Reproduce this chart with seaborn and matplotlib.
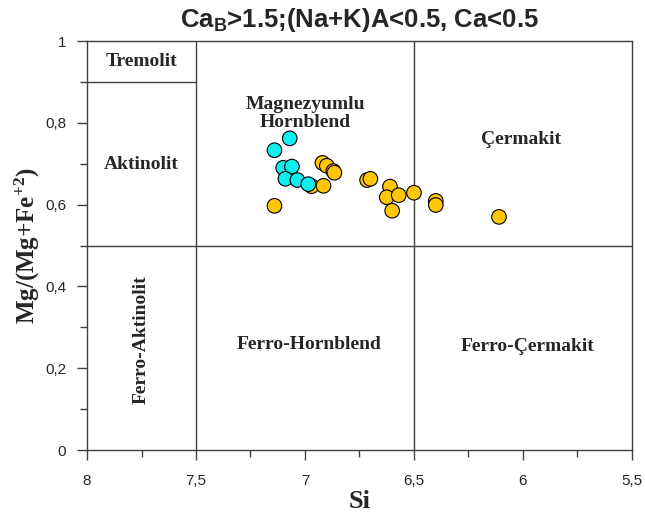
import matplotlib
matplotlib.use("Agg")
import matplotlib.pyplot as plt
import pandas as pd
import seaborn as sns
from matplotlib.ticker import MultipleLocator, FixedLocator

# cyan group (Si, Mg/(Mg+Fe2))
si_cyan = [7.07, 7.14, 7.10, 7.06, 7.09, 7.035, 6.985]
mg_cyan = [0.762, 0.733, 0.690, 0.693, 0.663, 0.660, 0.650]

# gold group
si_gold = [6.97, 6.915, 6.92, 6.90, 6.87, 6.865, 7.14, 6.715, 6.70,
           6.61, 6.625, 6.57, 6.60, 6.50, 6.40, 6.40, 6.11]
mg_gold = [0.645, 0.646, 0.702, 0.695, 0.682, 0.678, 0.597, 0.660, 0.663,
           0.644, 0.618, 0.623, 0.585, 0.629, 0.609, 0.599, 0.570]

x_ticks = [8, 7.5, 7, 6.5, 6, 5.5]
x_labels = ["8", "7,5", "7", "6,5", "6", "5,5"]
y_ticks = [0, 0.2, 0.4, 0.6, 0.8, 1.0]
y_labels = ["0", "0,2", "0,4", "0,6", "0,8", "1"]

df = pd.DataFrame({
    "Si": si_gold + si_cyan,
    "Mg": mg_gold + mg_cyan,
    "grup": ["gold"] * len(si_gold) + ["cyan"] * len(si_cyan),
})

sns.set_style("white")
plt.rcParams["mathtext.fontset"] = "custom"
plt.rcParams["mathtext.sf"] = "Liberation Sans:bold"
plt.rcParams["mathtext.bf"] = "Liberation Serif:bold"
plt.rcParams["mathtext.rm"] = "Liberation Serif:bold"

fig = plt.figure(figsize=(6.45, 5.19), dpi=100)
ax = fig.add_axes([0.1349, 0.1329, 0.8449, 0.7881])

line_c = "#404040"
# field boundaries
ax.axvline(7.5, color=line_c, lw=1)
ax.axvline(6.5, color=line_c, lw=1)
ax.axhline(0.5, color=line_c, lw=1)
ax.plot([8, 7.5], [0.9, 0.9], color=line_c, lw=1)

sns.scatterplot(data=df, x="Si", y="Mg", hue="grup",
                palette={"gold": "#ffc60a", "cyan": "#12eef0"},
                s=110, edgecolor="black", linewidth=0.8, legend=False,
                ax=ax, zorder=3)

ax.set_xlim(8, 5.5)
ax.set_ylim(0, 1)
ax.xaxis.set_major_locator(FixedLocator(x_ticks))
ax.set_xticklabels(x_labels)
ax.xaxis.set_minor_locator(MultipleLocator(0.25))
ax.yaxis.set_major_locator(FixedLocator(y_ticks))
ax.set_yticklabels(y_labels)
ax.yaxis.set_minor_locator(MultipleLocator(0.1))
ax.tick_params(which="major", direction="out", length=7, width=1, color=line_c,
               labelsize=11, pad=10, bottom=True, left=True)
ax.tick_params(which="minor", direction="out", length=5, width=1, color=line_c,
               bottom=True, left=True)
ax.tick_params(axis="y", which="major", pad=8)
for lab in ax.get_xticklabels() + ax.get_yticklabels():
    lab.set_fontfamily("Liberation Sans")

for sp in ax.spines.values():
    sp.set_color(line_c)
    sp.set_linewidth(1)

serif_bold = dict(fontfamily="Liberation Serif", fontweight="bold")
ax.set_xlabel("Si", fontsize=19, labelpad=2, **serif_bold)
ax.set_ylabel("Mg/(Mg+Fe$\\mathbf{^{+2}}$)", fontsize=18, labelpad=2, **serif_bold)
ax.set_title("Ca$_{\\mathsf{B}}$>1.5;(Na+K)A<0.5, Ca<0.5", fontsize=18.5,
             fontfamily="Liberation Sans", fontweight="bold", pad=10)

lab_kw = dict(ha="center", va="center", fontsize=14, **serif_bold)
ax.text(7.75, 0.949, "Tremolit", **lab_kw)
ax.text(7.75, 0.697, "Aktinolit", **lab_kw)
ax.text(7.0, 0.822, "Magnezyumlu\nHornblend", linespacing=1.1, **lab_kw)
ax.text(6.01, 0.758, "Çermakit", **lab_kw)
ax.text(7.75, 0.27, "Ferro-Aktinolit", rotation=90, **lab_kw)
ax.text(6.98, 0.257, "Ferro-Hornblend", **lab_kw)
ax.text(5.98, 0.254, "Ferro-Çermakit", **lab_kw)

fig.savefig("out.png", dpi=100)
